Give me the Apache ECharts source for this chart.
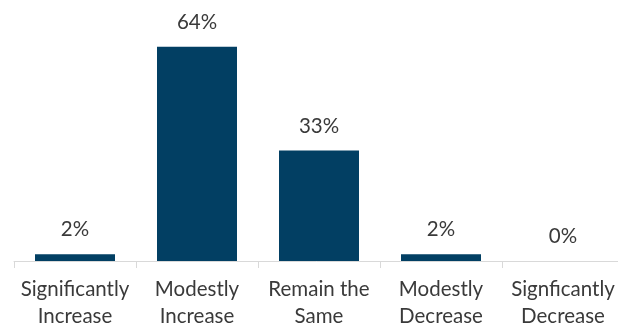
<!DOCTYPE html>
<html>
<head>
    <meta charset="utf-8">
    <title>ECharts</title>
    <script src="https://cdn.jsdelivr.net/npm/echarts@6/dist/echarts.min.js"></script>
</head>
<body style="margin:0">
    <div id="main" style="width: 618px;height:329px;"></div>
    <script>
        var categories = ['Significantly\nIncrease', 'Modestly\nIncrease', 'Remain the\nSame', 'Modestly\nDecrease', 'Signficantly\nDecrease'];
        var values = [2, 64, 33, 2, 0];

        var myChart = echarts.init(document.getElementById('main'));
        var textFont = 'Lato, "Noto Sans", sans-serif';

        var option = {
            animation: false,
            grid: {
                left: 14,
                top: 0,
                width: 610,
                height: 261,
                outerBoundsMode: 'none'
            },
            xAxis: {
                type: 'category',
                data: categories,
                axisLine: { lineStyle: { color: '#d9d9d9', width: 1 } },
                axisTick: { show: true, length: 7, lineStyle: { color: '#d9d9d9' } },
                axisLabel: {
                    color: '#3a3a3a',
                    fontSize: 20.5,
                    fontFamily: textFont,
                    lineHeight: 27,
                    margin: 15,
                    interval: 0
                }
            },
            yAxis: {
                type: 'value',
                min: 0,
                max: 78,
                show: false,
                splitLine: { show: false }
            },
            series: [{
                type: 'bar',
                data: values,
                barWidth: 80,
                itemStyle: { color: '#023f63' },
                label: {
                    show: true,
                    position: 'top',
                    distance: 14,
                    formatter: '{c}%',
                    color: '#3a3a3a',
                    fontSize: 20.5,
                    fontFamily: textFont
                }
            }]
        };

        myChart.setOption(option);
    </script>
</body>
</html>
